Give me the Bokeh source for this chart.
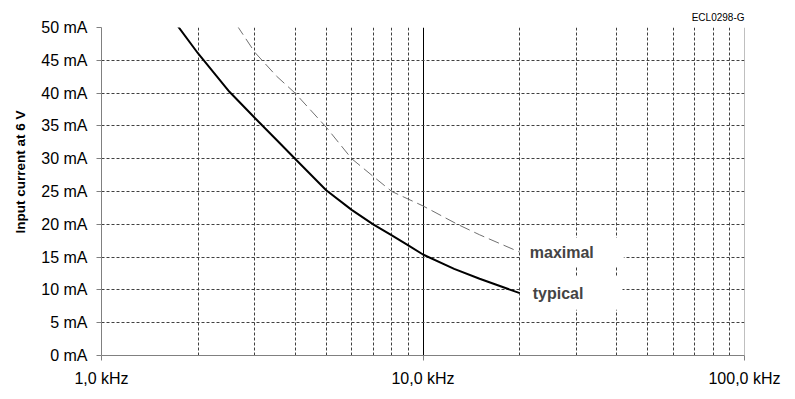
from bokeh.plotting import figure
from bokeh.models import FixedTicker, Label, Span, Title
from bokeh.embed import file_html
from bokeh.resources import INLINE

# ---- data ----
freq_ticks = [1, 10, 100]
freq_tick_labels = ["1,0 kHz", "10,0 kHz", "100,0 kHz"]
freq_minor = [2, 3, 4, 5, 6, 7, 8, 9, 20, 30, 40, 50, 60, 70, 80, 90]
current_ticks = [0, 5, 10, 15, 20, 25, 30, 35, 40, 45, 50]

typ_freq = [1.71, 2.0, 2.5, 3.0, 3.5, 4.0, 5.0, 6.0, 7.0, 8.0, 9.0, 10.0, 12.5, 15.0, 20.0]
typ_current = [50.5, 46.0, 40.2, 36.2, 32.9, 30.0, 25.2, 22.2, 20.0, 18.3, 16.8, 15.4, 13.2, 11.7, 9.5]

max_freq = [2.64, 3.0, 3.5, 4.0, 5.0, 6.0, 7.0, 8.0, 10.0, 12.8, 15.0, 20.0]
max_current = [50.3, 46.2, 42.6, 40.0, 34.8, 30.0, 27.3, 25.0, 22.8, 20.0, 18.4, 15.75]

series_names = ["typical", "maximal"]
chart_code = "ECL0298-G"
y_title = "Input current at 6 V"

FONT = "Liberation Sans"

p = figure(
    x_axis_type="log",
    x_range=(freq_ticks[0], freq_ticks[-1]),
    y_range=(current_ticks[0], current_ticks[-1]),
    frame_width=643, frame_height=328,
    min_border_left=101, min_border_right=44,
    min_border_top=27, min_border_bottom=40,
    output_backend="svg", toolbar_location=None,
)
p.outline_line_color = None
p.background_fill_color = "white"
p.border_fill_color = "white"

# axes
xa = p.xaxis[0]
xa.ticker = FixedTicker(ticks=freq_ticks, minor_ticks=freq_minor)
xa.major_label_overrides = {t: l for t, l in zip(freq_ticks, freq_tick_labels)}
ya = p.yaxis[0]
ya.ticker = FixedTicker(ticks=current_ticks)
ya.major_label_overrides = {t: f"{t} mA" for t in current_ticks}

for ax in (xa, ya):
    ax.axis_line_color = "#808080"
    ax.major_tick_line_color = "#808080"
    ax.major_tick_out = 5
    ax.major_tick_in = 0
    ax.minor_tick_out = 0
    ax.minor_tick_in = 0
    ax.major_label_text_font = FONT
    ax.major_label_text_font_size = "16px"
    ax.major_label_text_color = "black"
    ax.major_label_standoff = 9
    ax.axis_label = None

# grids
xg = p.xgrid[0]
xg.grid_line_color = "black"
xg.grid_line_width = 1
xg.minor_grid_line_color = "#404040"
xg.minor_grid_line_dash = "3 2"
xg.minor_grid_line_width = 1
yg = p.ygrid[0]
yg.grid_line_color = "#404040"
yg.grid_line_dash = "3 2"
yg.grid_line_width = 1

p.add_layout(Span(location=freq_ticks[-1], dimension="height", line_color="#808080", line_width=1))

# curves
p.line(max_freq, max_current, line_color="#707070", line_width=1, line_dash="11 5")
p.line(typ_freq, typ_current, line_color="black", line_width=2)

# end labels with white boxes
p.add_layout(Label(x=max_freq[-1], y=max_current[-1], text=series_names[1], x_offset=1,
                   text_font=FONT, text_font_size="16px", text_font_style="bold",
                   text_align="left", text_baseline="middle",
                   background_fill_color="white",
                   padding=dict(left=9, right=30, top=6, bottom=6)))
p.add_layout(Label(x=typ_freq[-1], y=typ_current[-1], text=series_names[0], x_offset=1,
                   text_font=FONT, text_font_size="16px", text_font_style="bold",
                   text_align="left", text_baseline="middle",
                   background_fill_color="white",
                   padding=dict(left=12, right=39, top=8, bottom=8)))

# chart code top-right
p.add_layout(Title(text=chart_code, align="right", text_font=FONT, text_font_size="10px",
                   text_font_style="normal", text_color="black", standoff=9), "above")

# y axis title
p.add_layout(Title(text=y_title, align="left", offset=122, text_font=FONT,
                   text_font_size="13.5px", text_font_style="bold", text_color="black",
                   standoff=21), "left")

open("out.html", "w").write(file_html(p, INLINE))
